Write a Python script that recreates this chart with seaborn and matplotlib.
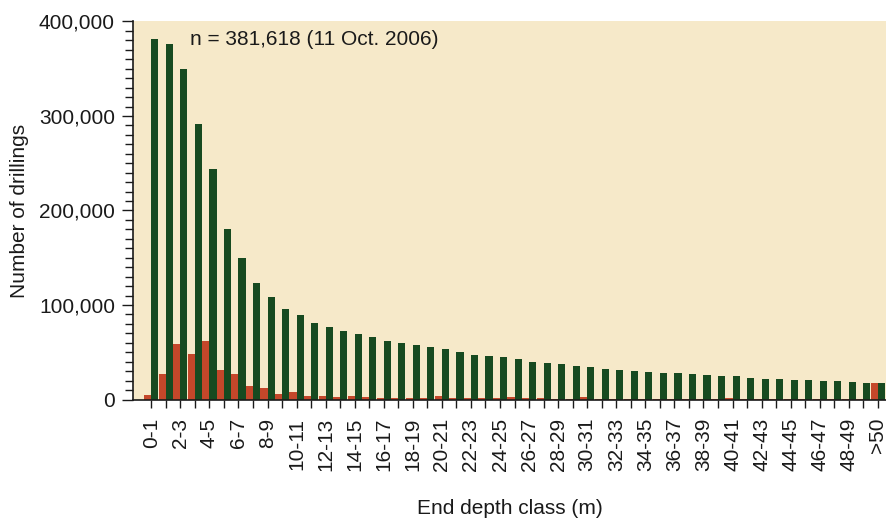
import numpy as np
import pandas as pd
import matplotlib
matplotlib.use("Agg")
import matplotlib.pyplot as plt
from matplotlib.ticker import MultipleLocator, FuncFormatter
import seaborn as sns

# ---- data ----
classes = [f"{i}-{i+1}" for i in range(50)] + [">50"]

drillings_at_least = [
    381618, 376300, 349800, 291400, 243700, 180800, 149300, 122800, 108000, 96000,
    89600, 81000, 76400, 72300, 69000, 65800, 62400, 59700, 57500, 55600,
    53900, 49800, 47600, 46100, 44600, 43200, 40200, 38700, 37200, 35800,
    34600, 31800, 30800, 29800, 29000, 28300, 27600, 26600, 25800, 25100,
    24400, 22600, 21900, 21300, 20900, 20500, 19500, 19100, 18500, 18000,
    17300,
]
drillings_in_class = [
    5300, 26500, 58400, 47700, 61900, 31500, 26500, 14500, 11700, 6000,
    8200, 4200, 3900, 2500, 4200, 2500, 1800, 1800, 1500, 1500,
    3500, 1500, 1200, 1200, 1200, 2800, 1200, 1200, 1000, 1000,
    2800, 1000, 900, 900, 800, 800, 800, 800, 700, 700,
    1800, 700, 600, 600, 500, 600, 500, 500, 500, 600,
    17300,
]
tick_labels = [c if (i % 2 == 0) else "" for i, c in enumerate(classes)]
annotation = "n = 381,618 (11 Oct. 2006)"

df = pd.DataFrame({
    "cls": classes * 2,
    "count": drillings_in_class + drillings_at_least,
    "series": ["in_class"] * len(classes) + ["at_least"] * len(classes),
})

sns.set_style("ticks")
plt.rcParams["font.family"] = ["Liberation Sans", "DejaVu Sans"]
plt.rcParams["font.size"] = 15
plt.rcParams["text.color"] = "#1a1a1a"
plt.rcParams["xtick.color"] = "#1a1a1a"
plt.rcParams["ytick.color"] = "#1a1a1a"
plt.rcParams["axes.labelcolor"] = "#1a1a1a"

fig = plt.figure(figsize=(8.87, 5.2), dpi=100)
ax = fig.add_axes([0.1499, 0.2317, 0.8501, 0.727])
ax.set_facecolor("#f6e9c9")

sns.barplot(
    data=df, x="cls", y="count", hue="series", order=classes,
    hue_order=["in_class", "at_least"],
    palette={"in_class": "#c4472a", "at_least": "#174a20"},
    width=0.98, dodge=True, saturation=1, linewidth=0, legend=False, ax=ax,
)

ax.set_xlim(-1.26, 50.63)
ax.set_ylim(0, 400000)
ax.yaxis.set_major_locator(MultipleLocator(100000))
ax.yaxis.set_minor_locator(MultipleLocator(10000))
ax.yaxis.set_major_formatter(FuncFormatter(lambda v, p: f"{int(v):,}"))
ax.set_xticks(range(len(classes)))
ax.set_xticklabels(tick_labels, rotation=90)

ax.tick_params(axis="y", which="major", length=8, width=1, direction="out",
               labelsize=15, pad=5)
ax.tick_params(axis="y", which="minor", length=6, width=1, direction="out")
ax.tick_params(axis="x", length=6, width=1, direction="out", labelsize=15,
               pad=7)

for s in ["top", "right"]:
    ax.spines[s].set_visible(False)
for s in ["left", "bottom"]:
    ax.spines[s].set_color("#1a1a1a")
    ax.spines[s].set_linewidth(1.2)

ax.set_xlabel("End depth class (m)", fontsize=15, va="center")
ax.xaxis.set_label_coords(0.5, -0.289)
ax.set_ylabel("Number of drillings", fontsize=15, va="center")
ax.yaxis.set_label_coords(-0.150, 0.5)

ax.text(0.0756, 0.952, annotation, transform=ax.transAxes, fontsize=15,
        ha="left", va="center")

fig.savefig("out.png", dpi=100)
